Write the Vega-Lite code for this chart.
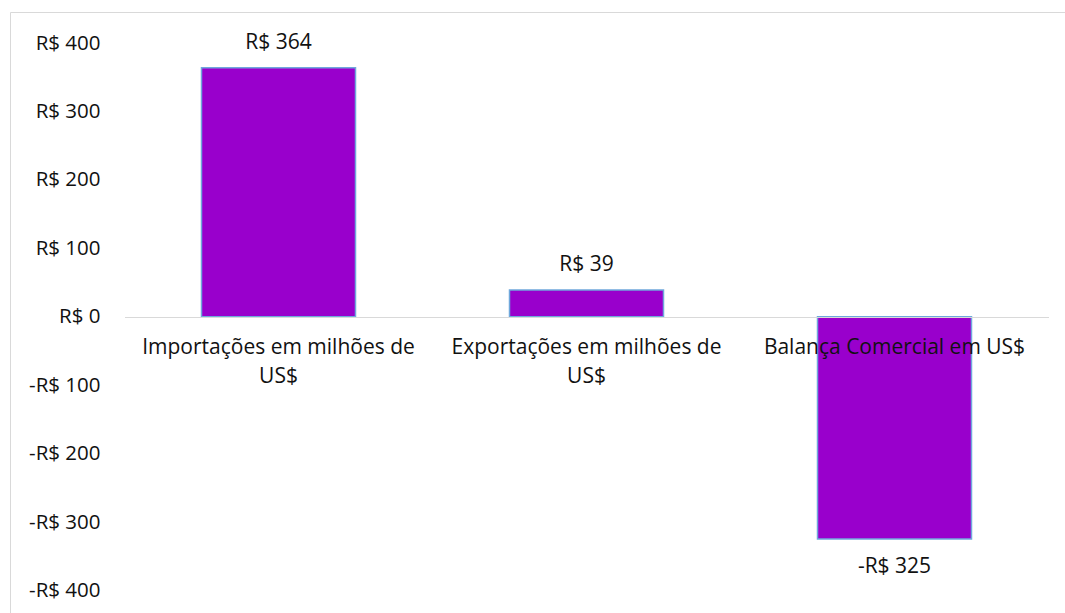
{
  "$schema": "https://vega.github.io/schema/vega-lite/v6.json",
  "autosize": {"type": "none"},
  "padding": {"left": 10, "top": 12, "right": 0, "bottom": 0},
  "width": 1060,
  "height": 601,
  "background": "white",
  "config": {
    "view": {"stroke": "#D9D9D9", "strokeWidth": 1},
    "font": "Open Sans",
    "text": {"font": "Open Sans", "fontSize": 21, "color": "#111111"}
  },
  "data": {
    "values": [
      {"categoria": "Importações em milhões de US$", "valor": 364, "rotulo": "R$ 364"},
      {"categoria": "Exportações em milhões de US$", "valor": 39, "rotulo": "R$ 39"},
      {"categoria": "Balança Comercial em US$", "valor": -325, "rotulo": "-R$ 325"}
    ]
  },
  "encoding": {
    "x": {
      "field": "categoria",
      "type": "nominal",
      "sort": null,
      "scale": {"range": [114.5, 1038.5], "paddingInner": 0.5, "paddingOuter": 0.25},
      "axis": {
        "title": null,
        "orient": "bottom",
        "offset": -296,
        "zindex": 1,
        "domainColor": "#D9D9D9",
        "domainWidth": 1,
        "ticks": false,
        "labelAngle": 0,
        "labelFont": "Open Sans",
        "labelFontSize": 21,
        "labelColor": "#111111",
        "labelPadding": 19,
        "labelLineHeight": 29,
        "labelLimit": 0,
        "labelOverlap": false,
        "labelExpr": "datum.label == 'Importações em milhões de US$' ? ['Importações em milhões de', 'US$'] : datum.label == 'Exportações em milhões de US$' ? ['Exportações em milhões de', 'US$'] : datum.label"
      }
    },
    "y": {
      "field": "valor",
      "type": "quantitative",
      "scale": {"domain": [-433, 445.5], "nice": false, "zero": false},
      "axis": {
        "title": null,
        "offset": -114,
        "domain": false,
        "ticks": false,
        "grid": false,
        "values": [-400, -300, -200, -100, 0, 100, 200, 300, 400],
        "labelFont": "Open Sans",
        "labelFontSize": 20.5,
        "labelColor": "#111111",
        "labelPadding": 24,
        "labelExpr": "datum.value < 0 ? '-R$ ' + format(-datum.value, 'd') : 'R$ ' + format(datum.value, 'd')"
      }
    }
  },
  "layer": [
    {
      "mark": {"type": "bar", "color": "#9900CC", "stroke": "#6FA8DC", "strokeWidth": 1.5},
      "encoding": {"y2": {"datum": 0}}
    },
    {
      "transform": [{"filter": "datum.valor >= 0"}],
      "mark": {"type": "text", "baseline": "middle", "align": "center", "dy": -25},
      "encoding": {"text": {"field": "rotulo"}}
    },
    {
      "transform": [{"filter": "datum.valor < 0"}],
      "mark": {"type": "text", "baseline": "middle", "align": "center", "dy": 28},
      "encoding": {"text": {"field": "rotulo"}}
    }
  ]
}
